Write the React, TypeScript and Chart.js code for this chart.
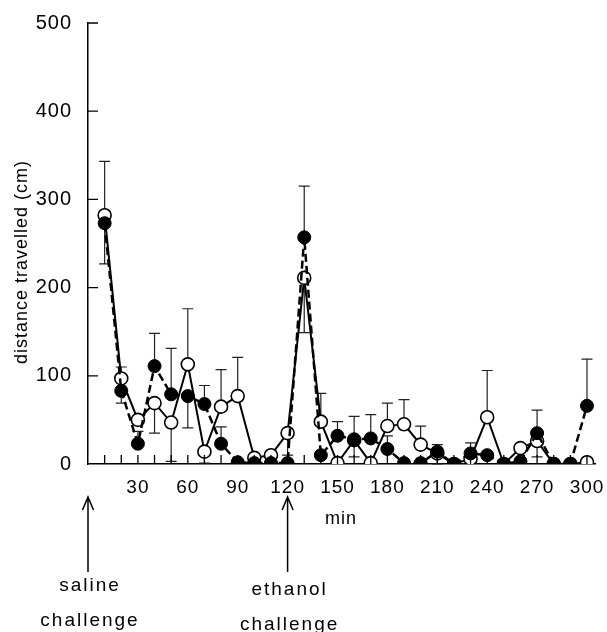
import { useEffect, useRef } from "react";
import { Chart, registerables } from "chart.js";

Chart.register(...registerables);

const minutes = [10, 20, 30, 40, 50, 60, 70, 80, 90, 100, 110, 120, 130, 140, 150, 160, 170, 180, 190, 200, 210, 220, 230, 240, 250, 260, 270, 280, 290, 300];
const openValues = [282, 97, 50, 69, 47, 113, 14, 65, 77, 7, 10, 35, 211, 48, 1, 27, 1, 43, 45, 22, 12, 0, 6, 53, 0, 18, 26, 0, 0, 2];
const openErrors = [61, 13, 0, -34, -44, 63, -13, 42, 44, 0, 0, -25, -62, 32, 0, -19, 0, 26, 28, 21, -12, 0, 0, 53, 0, 0, -18, 0, 0, 0];
const filledValues = [273, 83, 23, 111, 79, 77, 68, 23, 2, 1, 1, 1, 257, 10, 32, 28, 29, 17, 1, 1, 14, 0, 12, 10, 0, 3, 35, 0, 0, 66];
const filledErrors = [-46, -14, 14, 37, 52, -36, 21, 19, 0, 0, 0, 0, 58, 0, 16, 26, 27, 15, 0, 0, 8, 0, 12, 0, 0, 0, 26, 0, 0, 53];
const xTickLabels = [30, 60, 90, 120, 150, 180, 210, 240, 270, 300];
const xTickMarks = [10, 20, 30, 40, 50, 60, 70, 80, 90, 100, 110, 120, 130, 140, 150, 160, 170, 180, 190, 200, 210, 220, 230, 240, 250, 260, 270, 280, 290, 300];
const yTicks = [0, 100, 200, 300, 400, 500];
const challenges = [
  { minute: 0, lines: ["saline", "challenge"] },
  { minute: 120, lines: ["ethanol", "challenge"] },
];

const FONT = "'Liberation Sans', Arial, Helvetica, sans-serif";
const W = 607;
const H = 632;

export default function App() {
  const ref = useRef<HTMLCanvasElement | null>(null);

  useEffect(() => {
    document.body.style.margin = "0";
    const canvas = ref.current;
    if (!canvas) return;
    const errs = [filledErrors, openErrors];

    const decorPlugin = {
      id: "decor",
      beforeDraw(chart: any) {
        (chart.ctx as any).letterSpacing = "1px";
      },
      beforeDatasetsDraw(chart: any) {
        const ctx = chart.ctx;
        const ys = chart.scales.y;
        ctx.save();
        ctx.strokeStyle = "#222";
        ctx.lineWidth = 1.2;
        chart.data.datasets.forEach((ds: any, di: number) => {
          const meta = chart.getDatasetMeta(di);
          meta.data.forEach((pt: any, i: number) => {
            const e = errs[di][i];
            if (!e) return;
            const v = ds.data[i].y + e;
            const yEnd = ys.getPixelForValue(v);
            ctx.beginPath();
            ctx.moveTo(pt.x, pt.y);
            ctx.lineTo(pt.x, yEnd);
            ctx.moveTo(pt.x - 5.5, yEnd);
            ctx.lineTo(pt.x + 5.5, yEnd);
            ctx.stroke();
          });
        });
        ctx.restore();
      },
      afterDraw(chart: any) {
        const ctx = chart.ctx;
        const xs = chart.scales.x;
        const ys = chart.scales.y;
        const area = chart.chartArea;
        ctx.save();
        ctx.strokeStyle = "#000";
        ctx.lineWidth = 1.3;
        ctx.beginPath();
        xTickMarks.forEach((m) => {
          const px = xs.getPixelForValue(m);
          ctx.moveTo(px, area.bottom);
          ctx.lineTo(px, area.bottom - 9);
        });
        yTicks.forEach((v) => {
          if (v === 0) return;
          const py = ys.getPixelForValue(v);
          ctx.moveTo(area.left, py);
          ctx.lineTo(area.left + 10, py);
        });
        ctx.stroke();

        // y title
        ctx.fillStyle = "#000";
        (ctx as any).letterSpacing = "1px";
        ctx.font = `18px ${FONT}`;
        ctx.textAlign = "center";
        ctx.textBaseline = "middle";
        ctx.save();
        ctx.translate(22, 262);
        ctx.rotate(-Math.PI / 2);
        ctx.fillText("distance travelled (cm)", 0, 0);
        ctx.restore();

        // x title
        ctx.fillText("min", 341, 519);

        // arrows and challenge labels
        ctx.lineWidth = 1.5;
        challenges.forEach((c, ci) => {
          const px = xs.getPixelForValue(c.minute);
          const top = 497;
          const bottom = 572;
          ctx.beginPath();
          ctx.moveTo(px, bottom);
          ctx.lineTo(px, top);
          ctx.moveTo(px - 5.5, top + 13);
          ctx.lineTo(px, top);
          ctx.lineTo(px + 5.5, top + 13);
          ctx.stroke();
          (ctx as any).letterSpacing = "2px";
          ctx.font = `19px ${FONT}`;
          const y0 = ci === 0 ? 586 : 590;
          c.lines.forEach((t, li) => {
            ctx.fillText(t, px + 2, y0 + li * 35);
          });
        });
        ctx.restore();
      },
    };

    const chart = new Chart(canvas, {
      type: "line",
      data: {
        datasets: [
          {
            label: "filled",
            data: minutes.map((m, i) => ({ x: m, y: filledValues[i] })),
            borderColor: "#000",
            borderWidth: 2.5,
            borderDash: [8, 4],
            pointRadius: 6.5,
            pointBorderWidth: 1,
            pointBackgroundColor: "#000",
            pointBorderColor: "#000",
            tension: 0,
          },
          {
            label: "open",
            data: minutes.map((m, i) => ({ x: m, y: openValues[i] })),
            borderColor: "#000",
            borderWidth: 2,
            pointRadius: 6.5,
            pointBorderWidth: 1.6,
            pointBackgroundColor: "#fff",
            pointBorderColor: "#000",
            tension: 0,
          },
        ],
      },
      options: {
        animation: false,
        responsive: false,
        devicePixelRatio: 1,
        layout: { padding: { left: 0, right: 10, top: 23, bottom: 0 } },
        plugins: {
          legend: { display: false },
          tooltip: { enabled: false },
        },
        scales: {
          x: {
            type: "linear",
            min: 0,
            max: 305,
            grid: { display: false },
            border: { display: true, color: "#000", width: 1.5 },
            afterBuildTicks(scale: any) {
              scale.ticks = xTickLabels.map((v) => ({ value: v }));
            },
            afterFit(scale: any) {
              scale.height = H - 464;
            },
            ticks: {
              color: "#000",
              font: { family: FONT, size: 19 },
              padding: 4,
              maxRotation: 0,
              autoSkip: false,
              callback: (v: any) => String(v),
            },
          },
          y: {
            type: "linear",
            min: 0,
            max: 500,
            grid: { display: false },
            border: { display: true, color: "#000", width: 1.5 },
            afterBuildTicks(scale: any) {
              scale.ticks = yTicks.map((v) => ({ value: v }));
            },
            afterFit(scale: any) {
              scale.width = 88;
            },
            ticks: {
              color: "#000",
              font: { family: FONT, size: 20 },
              padding: 8,
              callback: (v: any) => String(v),
            },
          },
        },
      },
      plugins: [decorPlugin],
    });

    return () => chart.destroy();
  }, []);

  return (
    <div style={{ position: "absolute", left: 0, top: 0, width: W, height: H, background: "#fff" }}>
      <canvas ref={ref} width={W} height={H} style={{ width: W, height: H, display: "block" }} />
    </div>
  );
}
